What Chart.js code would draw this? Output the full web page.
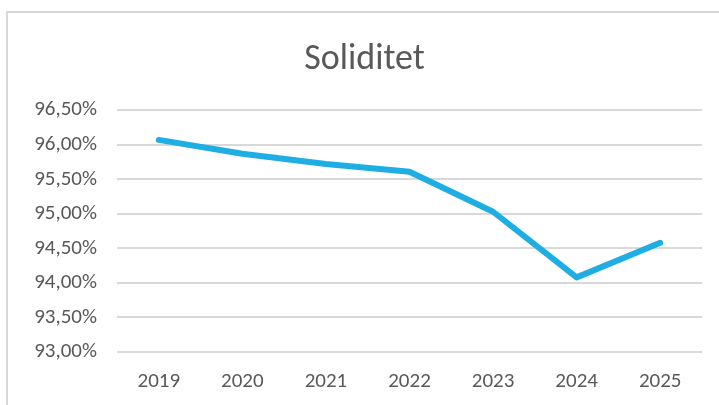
<!DOCTYPE html>
<html>
<head>
<meta charset="utf-8">
<script src="https://cdn.jsdelivr.net/npm/chart.js@4.4.0/dist/chart.umd.min.js"></script>
<style>
  html,body{margin:0;padding:0;background:#fff;}
  #wrap{position:relative;width:719px;height:405px;overflow:hidden;}
  #frame{position:absolute;left:6px;top:11px;width:760px;height:460px;border:2px solid #d9d9d9;box-sizing:border-box;}
  canvas{position:absolute;left:0;top:0;}
</style>
</head>
<body>
<div id="wrap">
  <div id="frame"></div>
  <canvas id="c" width="719" height="405"></canvas>
</div>
<script>
const chartTitle = "Soliditet";
const years = ["2019","2020","2021","2022","2023","2024","2025"];
const soliditet = [96.07, 95.87, 95.72, 95.61, 95.03, 94.08, 94.58];
const yMin = 93.0, yMax = 96.5, yStep = 0.5;

const FONT = "Carlito, Lato, 'Open Sans', sans-serif";
const TXT = "#595959";

new Chart(document.getElementById('c'), {
  type: 'line',
  data: {
    labels: years,
    datasets: [{
      data: soliditet,
      borderColor: '#1FAEE4',
      borderWidth: 6,
      pointRadius: 0,
      borderCapStyle: 'round',
      borderJoinStyle: 'round',
      tension: 0,
      fill: false
    }]
  },
  options: {
    responsive: false,
    animation: false,
    devicePixelRatio: 1,
    layout: { padding: { left: 27, right: 17, top: 0, bottom: 0 } },
    plugins: {
      legend: { display: false },
      tooltip: { enabled: false },
      title: {
        display: true,
        text: chartTitle,
        color: TXT,
        font: { family: FONT, size: 36, weight: 'normal' },
        padding: { top: 38, bottom: 29 }
      }
    },
    scales: {
      x: {
        offset: true,
        afterFit: s => { s.height = 53; },
        grid: { display: false, drawTicks: false },
        border: { display: false },
        ticks: { color: TXT, font: { family: FONT, size: 21 }, padding: 17, maxRotation: 0 }
      },
      y: {
        min: yMin, max: yMax,
        afterFit: s => { s.width = 90; },
        grid: { color: '#d9d9d9', lineWidth: 2, drawTicks: false },
        border: { display: false },
        ticks: {
          stepSize: yStep,
          color: TXT,
          font: { family: FONT, size: 21 },
          padding: 20,
          callback: v => v.toFixed(2).replace('.', ',') + '%'
        }
      }
    }
  }
});
</script>
</body>
</html>
